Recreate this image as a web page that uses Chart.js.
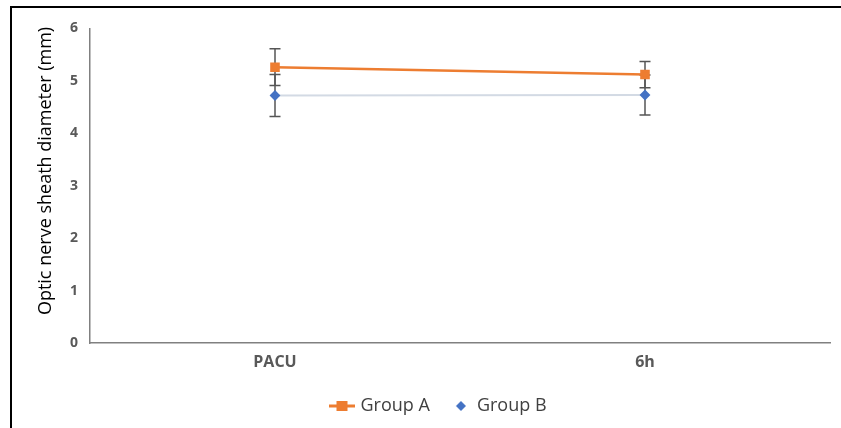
<!DOCTYPE html>
<html><head><meta charset="utf-8">
<script src="https://cdn.jsdelivr.net/npm/chart.js@4"></script>
<style>
html,body{margin:0;padding:0;background:#fff;width:841px;height:428px;overflow:hidden;}
#bt{position:absolute;left:10px;top:6px;width:831px;height:2px;background:#000;}
#bl{position:absolute;left:10px;top:6px;width:2px;height:422px;background:#000;}
#wrap{position:absolute;left:12px;top:8px;width:829px;height:420px;}
</style></head>
<body>
<div id="bt"></div><div id="bl"></div>
<div id="wrap"><canvas id="c"></canvas></div>
<script>
const categories = ["PACU", "6h"];
const groupA = [5.26, 5.12];
const groupB = [4.72, 4.73];
const errA = [0.35, 0.25];
const errB = [0.40, 0.38];
const yTicks = [0, 1, 2, 3, 4, 5, 6];
const yTitle = "Optic nerve sheath diameter (mm)";

const orange = "#ED7D31", blue = "#4472C4", lineB = "#D3DAE4";
const FONT = "'Open Sans', 'Liberation Sans', sans-serif";

function icon(kind){
  const c = document.createElement("canvas");
  c.width = 26; c.height = 14;
  const g = c.getContext("2d");
  if(kind==="A"){
    g.strokeStyle = orange; g.lineWidth = 3;
    g.beginPath(); g.moveTo(0,7); g.lineTo(26,7); g.stroke();
    g.fillStyle = orange; g.fillRect(7,2,11,10);
  } else {
    g.fillStyle = blue; g.beginPath();
    g.moveTo(15,2); g.lineTo(20,7); g.lineTo(15,12); g.lineTo(10,7); g.closePath(); g.fill();
  }
  return c;
}

const errorBars = {
  id: "errorBars",
  beforeDatasetsDraw(chart){
    const ctx = chart.ctx, y = chart.scales.y;
    const sets = [[0, errA], [1, errB]];
    ctx.save();
    ctx.strokeStyle = "#555555"; ctx.lineWidth = 1.5;
    sets.forEach(([di, err]) => {
      const meta = chart.getDatasetMeta(di);
      const vals = chart.data.datasets[di].data;
      meta.data.forEach((pt, i) => {
        const x = pt.x;
        const top = y.getPixelForValue(vals[i] + err[i]);
        const bot = y.getPixelForValue(vals[i] - err[i]);
        ctx.beginPath();
        ctx.moveTo(x, top); ctx.lineTo(x, bot);
        ctx.moveTo(x - 5.5, top); ctx.lineTo(x + 5.5, top);
        ctx.moveTo(x - 5.5, bot); ctx.lineTo(x + 5.5, bot);
        ctx.stroke();
      });
    });
    ctx.restore();
  }
};

const shiftLegend = {
  id: "shiftLegend",
  afterLayout(chart){
    chart.legend.left += 19; chart.legend.right += 19;
  }
};

const axisTitle = {
  id: "axisTitle",
  afterDraw(chart){
    const ctx = chart.ctx;
    ctx.save();
    ctx.translate(34, 163);
    ctx.rotate(-Math.PI / 2);
    ctx.font = "18px " + FONT;
    ctx.fillStyle = "#000";
    ctx.textAlign = "center";
    ctx.textBaseline = "middle";
    ctx.fillText(yTitle, 0, 0);
    ctx.restore();
  }
};

new Chart(document.getElementById("c"), {
  type: "line",
  data: {
    labels: categories,
    datasets: [
      { label: "Group A", data: groupA, borderColor: orange, backgroundColor: orange,
        borderWidth: 2.5, pointStyle: "rect", pointRadius: 5, pointHoverRadius: 5,
        pointBorderColor: orange, pointBackgroundColor: orange, tension: 0 },
      { label: "Group B", data: groupB, borderColor: lineB, backgroundColor: blue,
        borderWidth: 2, pointStyle: "rectRot", pointRadius: 4, pointHoverRadius: 4,
        pointBorderColor: blue, pointBackgroundColor: blue, tension: 0 }
    ]
  },
  options: {
    responsive: true, maintainAspectRatio: false, animation: false,
    layout: { padding: { left: 0, right: 11, top: 17, bottom: 3 } },
    plugins: {
      tooltip: { enabled: false },
      legend: {
        position: "bottom",
        labels: {
          usePointStyle: true,
          color: "#404040",
          font: { family: FONT, size: 18 },
          padding: 20,
          generateLabels(chart){
            return chart.data.datasets.map((d, i) => ({
              text: d.label, pointStyle: icon(i === 0 ? "A" : "B"),
              fillStyle: d.backgroundColor, strokeStyle: d.borderColor,
              lineWidth: 0, hidden: false, datasetIndex: i, fontColor: "#404040"
            }));
          }
        }
      }
    },
    scales: {
      x: {
        offset: true,
        grid: { display: false, drawTicks: false, offset: true },
        border: { display: true, color: "#808080", width: 1.5 },
        ticks: { color: "#595959", padding: 10,
          font: { family: FONT, size: 16, weight: "bold" } },
        afterFit(s){ s.height = 34; }
      },
      y: {
        min: 0, max: 6,
        afterBuildTicks(s){ s.ticks = yTicks.map(v => ({ value: v })); },
        grid: { display: false, drawTicks: false },
        border: { display: true, color: "#808080", width: 1.5 },
        ticks: { color: "#595959", padding: 12,
          font: { family: FONT, size: 14, weight: "bold" } },
        afterFit(s){ s.width = 78; }
      }
    }
  },
  plugins: [errorBars, shiftLegend, axisTitle]
});
</script>
</body></html>
